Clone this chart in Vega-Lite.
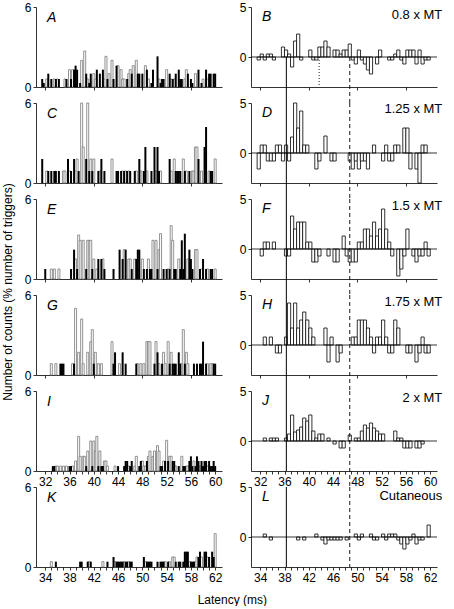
{
"$schema": "https://vega.github.io/schema/vega-lite/v6.json",
"padding": {"left": 2, "top": 1, "right": 0, "bottom": 0},
"title": {"text": "Latency (ms)", "orient": "bottom", "anchor": "middle", "offset": 12, "dx": 10},
"datasets": {
"A": [{"t":31.5,"s":"b","v":0.6},{"t":31.75,"s":"b","v":0.3},{"t":32.25,"s":"w","v":0.6},{"t":32.5,"s":"b","v":1},{"t":33,"s":"b","v":0.6},{"t":33.5,"s":"w","v":0.6},{"t":33.75,"s":"b","v":0.6},{"t":34,"s":"w","v":0.6},{"t":34.25,"s":"b","v":0.6},{"t":35.25,"s":"w","v":0.6},{"t":35.5,"s":"b","v":0.6},{"t":36,"s":"w","v":1.3},{"t":36.25,"s":"b","v":0.6},{"t":36.5,"s":"w","v":1.3},{"t":36.75,"s":"b","v":1.3},{"t":37,"s":"b","v":1.6},{"t":37.25,"s":"b","v":1.3},{"t":37.75,"s":"b","v":0.3},{"t":38,"s":"w","v":2},{"t":38.5,"s":"w","v":2.7},{"t":38.75,"s":"b","v":1},{"t":39,"s":"w","v":0.6},{"t":39.25,"s":"b","v":0.3},{"t":39.5,"s":"b","v":1},{"t":40,"s":"w","v":1},{"t":40.25,"s":"w","v":0.6},{"t":40.5,"s":"b","v":1.3},{"t":41,"s":"b","v":1},{"t":41.5,"s":"b","v":1.3},{"t":41.75,"s":"w","v":0.6},{"t":42,"s":"w","v":2.3},{"t":42.25,"s":"b","v":0.6},{"t":42.5,"s":"w","v":1},{"t":43,"s":"w","v":2},{"t":43.25,"s":"b","v":0.6},{"t":43.75,"s":"b","v":1.6},{"t":44,"s":"w","v":1.6},{"t":44.5,"s":"w","v":1.3},{"t":44.75,"s":"w","v":0.6},{"t":45,"s":"w","v":0.6},{"t":45.5,"s":"b","v":0.6},{"t":45.75,"s":"w","v":1},{"t":46,"s":"w","v":1.3},{"t":46.25,"s":"b","v":1},{"t":46.5,"s":"w","v":1.6},{"t":47,"s":"w","v":2},{"t":47.25,"s":"b","v":1},{"t":47.5,"s":"b","v":1},{"t":48,"s":"b","v":1},{"t":48.5,"s":"w","v":1.6},{"t":48.75,"s":"b","v":1.3},{"t":49,"s":"w","v":0.6},{"t":49.5,"s":"b","v":0.3},{"t":49.75,"s":"b","v":1.3},{"t":50.5,"s":"b","v":2.3},{"t":50.75,"s":"w","v":0.6},{"t":51,"s":"b","v":0.3},{"t":51.25,"s":"b","v":0.6},{"t":51.5,"s":"b","v":0.6},{"t":52,"s":"w","v":1.3},{"t":52.5,"s":"b","v":1},{"t":52.75,"s":"w","v":0.6},{"t":53,"s":"b","v":0.6},{"t":53.25,"s":"w","v":0.6},{"t":53.5,"s":"b","v":1},{"t":54,"s":"b","v":1.3},{"t":54.25,"s":"b","v":0.6},{"t":54.5,"s":"b","v":0.6},{"t":55,"s":"w","v":0.6},{"t":55.25,"s":"w","v":1.3},{"t":55.5,"s":"b","v":1},{"t":56,"s":"b","v":0.6},{"t":56.25,"s":"b","v":0.3},{"t":56.75,"s":"w","v":1},{"t":57.25,"s":"b","v":1.3},{"t":57.75,"s":"b","v":0.3},{"t":58,"s":"w","v":0.6},{"t":58.5,"s":"b","v":1.3},{"t":58.75,"s":"w","v":0.6},{"t":59,"s":"b","v":1},{"t":59.25,"s":"b","v":1},{"t":59.75,"s":"b","v":1},{"t":60,"s":"b","v":1}],
"C": [{"t":31.5,"s":"b","v":1.8},{"t":32.25,"s":"w","v":0.9},{"t":32.5,"s":"b","v":0.9},{"t":33,"s":"b","v":0.9},{"t":33.5,"s":"b","v":0.9},{"t":33.75,"s":"b","v":0.9},{"t":34.25,"s":"b","v":0.9},{"t":35,"s":"w","v":0.9},{"t":35.25,"s":"w","v":0.9},{"t":35.75,"s":"b","v":1.8},{"t":36,"s":"w","v":0.9},{"t":36.25,"s":"b","v":0.9},{"t":36.75,"s":"b","v":1.8},{"t":37,"s":"w","v":0.9},{"t":37.25,"s":"w","v":1.8},{"t":37.5,"s":"b","v":0.9},{"t":38,"s":"w","v":6},{"t":38.25,"s":"w","v":2.7},{"t":38.75,"s":"b","v":1.8},{"t":39,"s":"w","v":6},{"t":39.25,"s":"b","v":0.9},{"t":39.5,"s":"w","v":1.8},{"t":39.75,"s":"b","v":0.9},{"t":40,"s":"w","v":1.8},{"t":40.75,"s":"b","v":0.9},{"t":41,"s":"w","v":0.9},{"t":41.25,"s":"b","v":1.8},{"t":41.75,"s":"b","v":0.9},{"t":43,"s":"w","v":1.8},{"t":43.75,"s":"b","v":0.9},{"t":44,"s":"b","v":0.9},{"t":44.5,"s":"b","v":0.9},{"t":44.75,"s":"w","v":0.9},{"t":45,"s":"b","v":0.9},{"t":45.25,"s":"w","v":0.9},{"t":45.5,"s":"b","v":0.9},{"t":45.75,"s":"w","v":0.9},{"t":46,"s":"b","v":0.9},{"t":46.75,"s":"b","v":0.9},{"t":47,"s":"w","v":0.9},{"t":47.5,"s":"b","v":1.8},{"t":47.75,"s":"w","v":0.9},{"t":48.25,"s":"b","v":0.9},{"t":48.5,"s":"b","v":2.7},{"t":48.75,"s":"w","v":0.9},{"t":49.5,"s":"b","v":0.9},{"t":50,"s":"b","v":2.7},{"t":50.25,"s":"w","v":0.9},{"t":50.5,"s":"b","v":2.7},{"t":50.75,"s":"b","v":0.9},{"t":51,"s":"w","v":0.9},{"t":52.5,"s":"b","v":1.8},{"t":52.75,"s":"w","v":0.9},{"t":53.25,"s":"w","v":1.8},{"t":53.5,"s":"b","v":0.9},{"t":53.75,"s":"b","v":0.9},{"t":54,"s":"b","v":0.9},{"t":54.25,"s":"b","v":0.9},{"t":54.75,"s":"w","v":1.8},{"t":55,"s":"b","v":0.9},{"t":55.25,"s":"w","v":0.9},{"t":55.75,"s":"b","v":0.9},{"t":56.25,"s":"w","v":0.9},{"t":56.5,"s":"w","v":0.9},{"t":56.75,"s":"w","v":2.7},{"t":57,"s":"w","v":2.7},{"t":57.25,"s":"b","v":1.8},{"t":57.75,"s":"w","v":0.9},{"t":58.25,"s":"b","v":2.7},{"t":58.5,"s":"b","v":4.2},{"t":59,"s":"w","v":0.9},{"t":59.25,"s":"b","v":0.9},{"t":59.5,"s":"b","v":0.9},{"t":60,"s":"w","v":1.8}],
"E": [{"t":32,"s":"b","v":0.75},{"t":33,"s":"w","v":0.75},{"t":33.5,"s":"w","v":0.75},{"t":34.25,"s":"w","v":0.75},{"t":36.25,"s":"b","v":0.75},{"t":36.75,"s":"b","v":2.2},{"t":37,"s":"w","v":1.5},{"t":37.25,"s":"b","v":0.75},{"t":37.5,"s":"w","v":3.3},{"t":37.75,"s":"w","v":2.9},{"t":38.25,"s":"w","v":2.9},{"t":38.75,"s":"b","v":0.75},{"t":39,"s":"w","v":2.9},{"t":39.25,"s":"w","v":2.9},{"t":39.5,"s":"w","v":2.9},{"t":39.75,"s":"b","v":0.75},{"t":40,"s":"w","v":1.5},{"t":40.5,"s":"w","v":0.75},{"t":40.75,"s":"b","v":1.5},{"t":41.25,"s":"b","v":1.5},{"t":41.5,"s":"w","v":1.5},{"t":41.75,"s":"b","v":0.75},{"t":43.25,"s":"b","v":0.75},{"t":44.25,"s":"b","v":2.2},{"t":44.75,"s":"b","v":1.5},{"t":45,"s":"w","v":2.2},{"t":45.25,"s":"b","v":2.2},{"t":45.75,"s":"w","v":1.5},{"t":46,"s":"w","v":1.5},{"t":46.25,"s":"b","v":0.75},{"t":46.75,"s":"w","v":1.5},{"t":47,"s":"b","v":1.5},{"t":47.25,"s":"b","v":2.2},{"t":47.5,"s":"b","v":2.2},{"t":48,"s":"w","v":1.5},{"t":48.25,"s":"b","v":0.75},{"t":48.75,"s":"b","v":0.75},{"t":49,"s":"w","v":1.5},{"t":49.25,"s":"b","v":0.75},{"t":49.5,"s":"b","v":0.75},{"t":49.75,"s":"w","v":2.9},{"t":50.25,"s":"w","v":2.9},{"t":50.5,"s":"b","v":0.75},{"t":50.75,"s":"w","v":2.2},{"t":51,"s":"w","v":3.4},{"t":51.5,"s":"b","v":0.75},{"t":52,"s":"b","v":0.75},{"t":52.25,"s":"w","v":0.75},{"t":52.5,"s":"b","v":0.75},{"t":52.75,"s":"w","v":4},{"t":53,"s":"w","v":2.9},{"t":53.25,"s":"b","v":0.75},{"t":53.5,"s":"b","v":0.75},{"t":54,"s":"w","v":1.5},{"t":54.25,"s":"b","v":0.75},{"t":54.5,"s":"b","v":2.9},{"t":54.75,"s":"b","v":0.75},{"t":55,"s":"b","v":3.4},{"t":55.5,"s":"w","v":1.5},{"t":55.75,"s":"b","v":2.2},{"t":56,"s":"b","v":1.5},{"t":56.25,"s":"b","v":0.75},{"t":56.75,"s":"w","v":2.2},{"t":57,"s":"w","v":2.2},{"t":57.5,"s":"b","v":0.75},{"t":57.75,"s":"w","v":0.75},{"t":58,"s":"b","v":1.5},{"t":58.5,"s":"b","v":0.75},{"t":58.75,"s":"w","v":0.75},{"t":59.25,"s":"b","v":0.75},{"t":59.5,"s":"b","v":0.75},{"t":60,"s":"w","v":0.75}],
"G": [{"t":33,"s":"w","v":0.85},{"t":33.75,"s":"w","v":0.85},{"t":34.5,"s":"b","v":0.85},{"t":34.75,"s":"b","v":0.85},{"t":35,"s":"b","v":0.85},{"t":36.5,"s":"w","v":0.85},{"t":36.75,"s":"b","v":0.85},{"t":37,"s":"w","v":5},{"t":37.5,"s":"w","v":1.7},{"t":38,"s":"w","v":4.2},{"t":38.25,"s":"w","v":0.85},{"t":39,"s":"w","v":1.7},{"t":39.5,"s":"w","v":2.5},{"t":39.75,"s":"w","v":3.4},{"t":40,"s":"b","v":0.85},{"t":40.25,"s":"w","v":1.7},{"t":40.75,"s":"w","v":0.85},{"t":41.25,"s":"w","v":0.85},{"t":43,"s":"w","v":2.5},{"t":43.25,"s":"b","v":0.85},{"t":43.5,"s":"b","v":1.7},{"t":44.25,"s":"w","v":0.85},{"t":44.75,"s":"b","v":1.7},{"t":45.25,"s":"b","v":0.85},{"t":47,"s":"b","v":0.85},{"t":47.25,"s":"w","v":0.85},{"t":47.75,"s":"w","v":0.85},{"t":48.25,"s":"w","v":0.85},{"t":48.75,"s":"w","v":2.5},{"t":49,"s":"w","v":2.5},{"t":49.25,"s":"w","v":2.5},{"t":50,"s":"b","v":0.85},{"t":50.25,"s":"w","v":2.5},{"t":50.5,"s":"b","v":1.7},{"t":50.75,"s":"w","v":0.85},{"t":51.25,"s":"b","v":0.85},{"t":51.5,"s":"w","v":1.7},{"t":51.75,"s":"w","v":0.85},{"t":52.25,"s":"w","v":2.5},{"t":52.5,"s":"b","v":0.85},{"t":52.75,"s":"w","v":1.7},{"t":53,"s":"b","v":0.85},{"t":53.25,"s":"b","v":0.85},{"t":53.5,"s":"b","v":0.85},{"t":54,"s":"b","v":1.7},{"t":54.25,"s":"b","v":0.85},{"t":54.5,"s":"w","v":0.85},{"t":54.75,"s":"w","v":3.4},{"t":55,"s":"b","v":0.85},{"t":55.25,"s":"w","v":1.7},{"t":55.5,"s":"w","v":0.85},{"t":56.5,"s":"b","v":0.85},{"t":57,"s":"b","v":0.85},{"t":57.5,"s":"b","v":0.85},{"t":57.75,"s":"b","v":0.85},{"t":58,"s":"b","v":2.5},{"t":58.5,"s":"b","v":0.85},{"t":58.75,"s":"w","v":0.85},{"t":59.25,"s":"w","v":0.85},{"t":59.5,"s":"w","v":0.85},{"t":59.75,"s":"b","v":0.85},{"t":60,"s":"b","v":0.85}],
"I": [{"t":33.25,"s":"b","v":0.37},{"t":33.5,"s":"b","v":0.37},{"t":33.75,"s":"w","v":0.37},{"t":34,"s":"w","v":0.37},{"t":34.5,"s":"w","v":0.37},{"t":35,"s":"w","v":0.37},{"t":35.5,"s":"w","v":0.37},{"t":36,"s":"b","v":0.37},{"t":36.25,"s":"b","v":0.37},{"t":36.5,"s":"w","v":0.37},{"t":37,"s":"w","v":0.75},{"t":37.5,"s":"w","v":2.6},{"t":37.75,"s":"w","v":1.1},{"t":38.25,"s":"w","v":1.1},{"t":38.5,"s":"w","v":1.1},{"t":38.75,"s":"b","v":0.37},{"t":39,"s":"w","v":1.5},{"t":39.5,"s":"w","v":2.25},{"t":39.75,"s":"b","v":0.37},{"t":40,"s":"w","v":2.25},{"t":40.25,"s":"w","v":1.5},{"t":40.5,"s":"w","v":2.6},{"t":40.75,"s":"b","v":0.37},{"t":41,"s":"w","v":1.5},{"t":41.25,"s":"b","v":0.37},{"t":41.5,"s":"b","v":0.37},{"t":41.75,"s":"w","v":0.75},{"t":42,"s":"w","v":0.75},{"t":42.25,"s":"w","v":0.37},{"t":43.5,"s":"w","v":0.37},{"t":44,"s":"b","v":0.37},{"t":45,"s":"b","v":0.37},{"t":45.25,"s":"b","v":0.75},{"t":45.5,"s":"b","v":0.75},{"t":45.75,"s":"w","v":0.37},{"t":46,"s":"b","v":0.37},{"t":46.25,"s":"b","v":0.75},{"t":46.75,"s":"w","v":0.37},{"t":47,"s":"w","v":1.1},{"t":47.5,"s":"b","v":0.37},{"t":47.75,"s":"b","v":0.75},{"t":48,"s":"w","v":0.75},{"t":48.25,"s":"w","v":0.37},{"t":48.5,"s":"w","v":0.37},{"t":48.75,"s":"b","v":0.75},{"t":49,"s":"w","v":1.1},{"t":49.25,"s":"w","v":1.5},{"t":49.75,"s":"w","v":1.1},{"t":50,"s":"w","v":1.5},{"t":50.5,"s":"w","v":1.9},{"t":50.75,"s":"w","v":1.5},{"t":51,"s":"b","v":0.37},{"t":51.25,"s":"b","v":0.37},{"t":51.5,"s":"w","v":0.75},{"t":51.75,"s":"b","v":0.75},{"t":52,"s":"w","v":2.3},{"t":52.25,"s":"b","v":0.75},{"t":52.5,"s":"w","v":1.1},{"t":52.75,"s":"w","v":1.1},{"t":53,"s":"b","v":0.75},{"t":53.25,"s":"b","v":0.75},{"t":53.5,"s":"w","v":0.37},{"t":54,"s":"b","v":0.37},{"t":54.5,"s":"w","v":1.1},{"t":54.75,"s":"b","v":0.37},{"t":55,"s":"b","v":0.37},{"t":55.25,"s":"w","v":0.37},{"t":55.5,"s":"w","v":0.37},{"t":55.75,"s":"b","v":0.75},{"t":56,"s":"b","v":1.1},{"t":56.25,"s":"b","v":0.37},{"t":56.5,"s":"w","v":0.75},{"t":56.75,"s":"b","v":0.37},{"t":57,"s":"b","v":1.1},{"t":57.25,"s":"b","v":0.75},{"t":57.5,"s":"w","v":0.37},{"t":57.75,"s":"b","v":0.75},{"t":58,"s":"b","v":0.37},{"t":58.25,"s":"b","v":0.75},{"t":58.5,"s":"b","v":0.75},{"t":58.75,"s":"w","v":0.37},{"t":59,"s":"b","v":0.75},{"t":59.25,"s":"b","v":0.37},{"t":59.5,"s":"b","v":0.37},{"t":59.75,"s":"b","v":0.75},{"t":60,"s":"b","v":0.37}],
"K": [{"t":35,"s":"w","v":0.4},{"t":35.75,"s":"b","v":0.4},{"t":39.75,"s":"b","v":0.4},{"t":40,"s":"b","v":0.4},{"t":41,"s":"b","v":0.4},{"t":41.25,"s":"w","v":0.4},{"t":41.5,"s":"b","v":0.4},{"t":43.5,"s":"w","v":0.4},{"t":44.25,"s":"b","v":0.4},{"t":45.25,"s":"b","v":0.75},{"t":45.5,"s":"w","v":0.4},{"t":45.75,"s":"b","v":0.4},{"t":46,"s":"b","v":0.4},{"t":46.25,"s":"b","v":0.4},{"t":46.5,"s":"b","v":0.4},{"t":46.75,"s":"b","v":0.4},{"t":47,"s":"w","v":0.4},{"t":47.25,"s":"b","v":0.4},{"t":47.5,"s":"b","v":0.4},{"t":47.75,"s":"w","v":0.4},{"t":48,"s":"b","v":0.4},{"t":48.25,"s":"b","v":0.4},{"t":50.25,"s":"b","v":0.75},{"t":50.5,"s":"w","v":0.4},{"t":50.75,"s":"b","v":0.4},{"t":51,"s":"b","v":0.4},{"t":51.25,"s":"b","v":0.4},{"t":51.5,"s":"b","v":0.4},{"t":52.5,"s":"b","v":0.4},{"t":53,"s":"b","v":0.4},{"t":53.25,"s":"b","v":0.4},{"t":53.5,"s":"b","v":0.4},{"t":53.75,"s":"w","v":0.4},{"t":54.25,"s":"b","v":0.4},{"t":54.5,"s":"w","v":0.4},{"t":55,"s":"w","v":0.75},{"t":55.25,"s":"w","v":0.75},{"t":55.5,"s":"b","v":0.4},{"t":56,"s":"b","v":0.4},{"t":56.25,"s":"b","v":0.4},{"t":56.75,"s":"b","v":0.4},{"t":57,"s":"b","v":1.15},{"t":57.25,"s":"b","v":1.15},{"t":57.5,"s":"b","v":1.15},{"t":57.75,"s":"w","v":0.4},{"t":58,"s":"b","v":0.4},{"t":58.25,"s":"b","v":0.4},{"t":58.5,"s":"b","v":0.4},{"t":58.75,"s":"w","v":0.4},{"t":59,"s":"w","v":0.75},{"t":59.25,"s":"b","v":0.75},{"t":59.5,"s":"b","v":1.15},{"t":59.75,"s":"w","v":0.75},{"t":60.25,"s":"b","v":1.15},{"t":60.5,"s":"b","v":1.15},{"t":60.75,"s":"w","v":0.75},{"t":61,"s":"b","v":0.75},{"t":61.5,"s":"b","v":1.15},{"t":61.75,"s":"b","v":0.75},{"t":62,"s":"w","v":2.5}],
"B": [{"t":31.75,"v":-0.3},{"t":32.25,"v":0.3},{"t":32.75,"v":-0.3},{"t":33.25,"v":0.3},{"t":33.75,"v":0.3},{"t":34.25,"v":-0.3},{"t":35.75,"v":1},{"t":36.25,"v":0.7},{"t":36.75,"v":0.3},{"t":37.25,"v":-1},{"t":37.75,"v":1.6},{"t":38.25,"v":2.3},{"t":38.75,"v":-0.3},{"t":40.25,"v":0.7},{"t":40.75,"v":-0.3},{"t":41.25,"v":-0.3},{"t":41.75,"v":1},{"t":42.25,"v":1},{"t":42.75,"v":1.6},{"t":43.25,"v":1},{"t":44.25,"v":0.7},{"t":44.75,"v":0.7},{"t":45.25,"v":0.3},{"t":45.75,"v":0.7},{"t":46.25,"v":0.7},{"t":46.75,"v":1.3},{"t":47.25,"v":-0.3},{"t":47.75,"v":-0.7},{"t":48.25,"v":0.7},{"t":48.75,"v":-0.3},{"t":49.25,"v":-0.7},{"t":49.75,"v":-1.3},{"t":50.25,"v":-1.7},{"t":51.25,"v":-0.7},{"t":51.75,"v":0.7},{"t":53.25,"v":-0.3},{"t":53.75,"v":-0.3},{"t":54.25,"v":0.3},{"t":54.75,"v":0.7},{"t":55.25,"v":-0.3},{"t":55.75,"v":-0.7},{"t":56.25,"v":0.7},{"t":56.75,"v":0.7},{"t":57.25,"v":0.7},{"t":57.75,"v":-0.7},{"t":58.25,"v":0.7},{"t":58.75,"v":-0.7},{"t":59.25,"v":-0.3},{"t":59.75,"v":-0.3}],
"D": [{"t":31.75,"v":-1.6},{"t":32.25,"v":0.8},{"t":32.75,"v":0.8},{"t":33.25,"v":-0.8},{"t":33.75,"v":-0.8},{"t":34.25,"v":-0.8},{"t":34.75,"v":0.8},{"t":35.25,"v":0.8},{"t":35.75,"v":-0.8},{"t":36.25,"v":0.8},{"t":36.75,"v":-0.8},{"t":37.25,"v":1.6},{"t":37.75,"v":5},{"t":38.25,"v":2.5},{"t":38.75,"v":4.2},{"t":39.25,"v":0.8},{"t":39.75,"v":0.8},{"t":41.25,"v":-1.6},{"t":41.75,"v":-0.8},{"t":42.75,"v":1.7},{"t":43.75,"v":-0.8},{"t":44.25,"v":-0.8},{"t":46.75,"v":-0.8},{"t":47.25,"v":-1.6},{"t":47.75,"v":-0.8},{"t":48.25,"v":-1.6},{"t":48.75,"v":-0.8},{"t":49.25,"v":-0.8},{"t":49.75,"v":-1.6},{"t":50.75,"v":0.8},{"t":52.25,"v":-0.8},{"t":52.75,"v":0.8},{"t":53.25,"v":-0.8},{"t":53.75,"v":-0.8},{"t":54.25,"v":0.8},{"t":54.75,"v":0.8},{"t":55.75,"v":2.5},{"t":56.25,"v":2.5},{"t":56.75,"v":-1.6},{"t":57.75,"v":-1.6},{"t":58.25,"v":-3},{"t":58.75,"v":0.8},{"t":59.25,"v":0.8}],
"F": [{"t":32.25,"v":-0.7},{"t":32.75,"v":0.7},{"t":33.25,"v":0.7},{"t":34.25,"v":0.7},{"t":36.25,"v":-0.7},{"t":36.75,"v":-0.7},{"t":37.25,"v":3.3},{"t":37.75,"v":2},{"t":38.25,"v":2.7},{"t":38.75,"v":2.7},{"t":39.25,"v":2.7},{"t":39.75,"v":0.7},{"t":40.25,"v":0.7},{"t":40.75,"v":-1.3},{"t":41.25,"v":-1.3},{"t":41.75,"v":-0.7},{"t":43.25,"v":-0.7},{"t":44.25,"v":-1.3},{"t":44.75,"v":-1.3},{"t":45.75,"v":1.3},{"t":46.25,"v":-0.7},{"t":46.75,"v":-1.3},{"t":47.25,"v":-1.3},{"t":47.75,"v":-1.3},{"t":48.25,"v":0.7},{"t":48.75,"v":0.7},{"t":49.25,"v":2},{"t":49.75,"v":2},{"t":50.25,"v":1.3},{"t":50.75,"v":2.7},{"t":51.25,"v":1.3},{"t":51.75,"v":2},{"t":52.25,"v":4},{"t":52.75,"v":2},{"t":53.25,"v":0.7},{"t":53.75,"v":-0.7},{"t":54.75,"v":-2.7},{"t":55.25,"v":-2},{"t":55.75,"v":-0.7},{"t":56.25,"v":2},{"t":57.25,"v":-0.7},{"t":57.75,"v":-1.3},{"t":58.25,"v":-0.7},{"t":58.75,"v":-0.7},{"t":59.25,"v":0.7},{"t":59.75,"v":-0.7}],
"H": [{"t":32.75,"v":0.8},{"t":33.75,"v":0.8},{"t":34.75,"v":-0.8},{"t":35.25,"v":-0.8},{"t":36.25,"v":0.8},{"t":36.75,"v":4.2},{"t":37.25,"v":1.7},{"t":37.75,"v":4.2},{"t":38.25,"v":1.7},{"t":38.75,"v":2.5},{"t":39.25,"v":3.3},{"t":39.75,"v":2.5},{"t":40.25,"v":1.7},{"t":40.75,"v":0.8},{"t":42.75,"v":1.7},{"t":43.25,"v":-1.7},{"t":43.75,"v":0.8},{"t":44.75,"v":-1.7},{"t":45.25,"v":-0.8},{"t":47.25,"v":0.8},{"t":47.75,"v":0.8},{"t":48.25,"v":2.5},{"t":48.75,"v":2.5},{"t":49.25,"v":2.5},{"t":49.75,"v":1.7},{"t":50.25,"v":0.8},{"t":50.75,"v":-0.8},{"t":51.25,"v":0.8},{"t":51.75,"v":0.8},{"t":52.25,"v":2.5},{"t":52.75,"v":0.8},{"t":53.25,"v":-0.8},{"t":53.75,"v":-0.8},{"t":54.25,"v":2.5},{"t":54.75,"v":1.7},{"t":56.25,"v":-0.8},{"t":56.75,"v":-0.8},{"t":57.75,"v":-1.7},{"t":58.25,"v":-0.8},{"t":58.75,"v":0.8},{"t":59.25,"v":-0.8},{"t":59.75,"v":-0.8}],
"J": [{"t":32.75,"v":0.3},{"t":33.75,"v":0.3},{"t":34.25,"v":0.3},{"t":34.75,"v":0.3},{"t":36.25,"v":0.3},{"t":36.75,"v":0.7},{"t":37.25,"v":2.6},{"t":37.75,"v":0.9},{"t":38.25,"v":1.1},{"t":38.75,"v":1.4},{"t":39.25,"v":2.3},{"t":39.75,"v":2},{"t":40.25,"v":2.6},{"t":40.75,"v":1},{"t":41.25,"v":0.3},{"t":41.75,"v":0.7},{"t":42.25,"v":0.7},{"t":43.25,"v":0.3},{"t":44.25,"v":-0.3},{"t":45.25,"v":-0.7},{"t":45.75,"v":-0.7},{"t":46.75,"v":0.6},{"t":47.75,"v":0.3},{"t":48.25,"v":0.3},{"t":48.75,"v":1},{"t":49.25,"v":1.6},{"t":49.75,"v":1.3},{"t":50.25,"v":1.8},{"t":50.75,"v":1.3},{"t":51.25,"v":1},{"t":51.75,"v":0.7},{"t":52.25,"v":0.7},{"t":54.25,"v":1},{"t":54.75,"v":0.3},{"t":55.25,"v":0.3},{"t":55.75,"v":-0.7},{"t":56.25,"v":-0.7},{"t":56.75,"v":-0.7},{"t":57.75,"v":-0.7},{"t":58.25,"v":-0.7},{"t":58.75,"v":-0.3}],
"L": [{"t":34.75,"v":0.3},{"t":35.75,"v":-0.3},{"t":40.25,"v":-0.3},{"t":41.25,"v":-0.3},{"t":43.25,"v":0.3},{"t":44.25,"v":-0.3},{"t":44.75,"v":-0.7},{"t":45.25,"v":-0.3},{"t":45.75,"v":-0.3},{"t":46.25,"v":-0.3},{"t":46.75,"v":-0.3},{"t":47.25,"v":-0.3},{"t":48.25,"v":-0.3},{"t":49.75,"v":0.3},{"t":50.25,"v":-0.3},{"t":50.75,"v":0.3},{"t":52.25,"v":0.3},{"t":52.75,"v":-0.3},{"t":53.25,"v":-0.3},{"t":54.25,"v":0.3},{"t":54.75,"v":-0.3},{"t":55.25,"v":0.3},{"t":55.75,"v":0.3},{"t":56.25,"v":0.3},{"t":56.75,"v":-0.3},{"t":57.25,"v":-0.7},{"t":57.75,"v":-1.2},{"t":58.25,"v":-0.7},{"t":58.75,"v":-0.3},{"t":59.25,"v":0.3},{"t":59.75,"v":-0.7},{"t":60.25,"v":-0.3},{"t":60.75,"v":-0.3},{"t":61.75,"v":1.2}],
"lines": [{"p":"B","x":36.3,"k":"solid"},{"p":"B","x":41.7,"k":"dot"},{"p":"B","x":46.75,"k":"dash"},{"p":"D","x":36.3,"k":"solid"},{"p":"D","x":46.75,"k":"dash"},{"p":"F","x":36.3,"k":"solid"},{"p":"F","x":46.75,"k":"dash"},{"p":"H","x":36.3,"k":"solid"},{"p":"H","x":46.75,"k":"dash"},{"p":"J","x":36.3,"k":"solid"},{"p":"J","x":46.75,"k":"dash"},{"p":"L","x":38.3,"k":"solid"},{"p":"L","x":48.75,"k":"dash"}]
},
"hconcat": [
{"vconcat": [
 {"width":186,"height":80,"layer":[
  {"data":{"name":"A"},"transform":[{"filter":"datum.s == 'w'"}],"mark":{"type":"bar","width":2,"fill":"white","stroke":"#777777","strokeWidth":0.8},
   "encoding":{"x":{"field":"t","type":"quantitative","title":null,"scale":{"domain":[31.3,60.3],"nice":false,"zero":false},"axis":{"values":[32,33,34,35,36,37,38,39,40,41,42,43,44,45,46,47,48,49,50,51,52,53,54,55,56,57,58,59,60],"labels":false}},
   "y":{"field":"v","type":"quantitative","title":null,"scale":{"domain":[0,6],"nice":false},"axis":{"values":[0,6]}}}},
  {"data":{"name":"A"},"transform":[{"filter":"datum.s == 'b'"}],"mark":{"type":"bar","width":2,"fill":"black"},"encoding":{"x":{"field":"t","type":"quantitative","title":null},"y":{"field":"v","type":"quantitative","title":null}}},
  {"data":{"values":[{}]},"mark":{"type":"text","text":"A","fontStyle":"italic","fontSize":14,"align":"left","baseline":"middle"},"encoding":{"x":{"datum":32.3},"y":{"datum":5.2}}}
 ]},
 {"width":186,"height":80,"layer":[
  {"data":{"name":"C"},"transform":[{"filter":"datum.s == 'w'"}],"mark":{"type":"bar","width":2,"fill":"white","stroke":"#777777","strokeWidth":0.8},
   "encoding":{"x":{"field":"t","type":"quantitative","title":null,"scale":{"domain":[31.3,60.3],"nice":false,"zero":false},"axis":{"values":[32,33,34,35,36,37,38,39,40,41,42,43,44,45,46,47,48,49,50,51,52,53,54,55,56,57,58,59,60],"labels":false}},
   "y":{"field":"v","type":"quantitative","title":null,"scale":{"domain":[0,6],"nice":false},"axis":{"values":[0,6]}}}},
  {"data":{"name":"C"},"transform":[{"filter":"datum.s == 'b'"}],"mark":{"type":"bar","width":2,"fill":"black"},"encoding":{"x":{"field":"t","type":"quantitative","title":null},"y":{"field":"v","type":"quantitative","title":null}}},
  {"data":{"values":[{}]},"mark":{"type":"text","text":"C","fontStyle":"italic","fontSize":14,"align":"left","baseline":"middle"},"encoding":{"x":{"datum":32.3},"y":{"datum":5.2}}}
 ]},
 {"width":186,"height":80,"layer":[
  {"data":{"name":"E"},"transform":[{"filter":"datum.s == 'w'"}],"mark":{"type":"bar","width":2,"fill":"white","stroke":"#777777","strokeWidth":0.8},
   "encoding":{"x":{"field":"t","type":"quantitative","title":null,"scale":{"domain":[31.3,60.3],"nice":false,"zero":false},"axis":{"values":[32,33,34,35,36,37,38,39,40,41,42,43,44,45,46,47,48,49,50,51,52,53,54,55,56,57,58,59,60],"labels":false}},
   "y":{"field":"v","type":"quantitative","title":null,"scale":{"domain":[0,6],"nice":false},"axis":{"values":[0,6]}}}},
  {"data":{"name":"E"},"transform":[{"filter":"datum.s == 'b'"}],"mark":{"type":"bar","width":2,"fill":"black"},"encoding":{"x":{"field":"t","type":"quantitative","title":null},"y":{"field":"v","type":"quantitative","title":null}}},
  {"data":{"values":[{}]},"mark":{"type":"text","text":"E","fontStyle":"italic","fontSize":14,"align":"left","baseline":"middle"},"encoding":{"x":{"datum":32.3},"y":{"datum":5.2}}}
 ]},
 {"width":186,"height":80,"layer":[
  {"data":{"name":"G"},"transform":[{"filter":"datum.s == 'w'"}],"mark":{"type":"bar","width":2,"fill":"white","stroke":"#777777","strokeWidth":0.8},
   "encoding":{"x":{"field":"t","type":"quantitative","title":null,"scale":{"domain":[31.3,60.3],"nice":false,"zero":false},"axis":{"values":[32,33,34,35,36,37,38,39,40,41,42,43,44,45,46,47,48,49,50,51,52,53,54,55,56,57,58,59,60],"labels":false}},
   "y":{"field":"v","type":"quantitative","title":null,"scale":{"domain":[0,6],"nice":false},"axis":{"values":[0,6]}}}},
  {"data":{"name":"G"},"transform":[{"filter":"datum.s == 'b'"}],"mark":{"type":"bar","width":2,"fill":"black"},"encoding":{"x":{"field":"t","type":"quantitative","title":null},"y":{"field":"v","type":"quantitative","title":null}}},
  {"data":{"values":[{}]},"mark":{"type":"text","text":"G","fontStyle":"italic","fontSize":14,"align":"left","baseline":"middle"},"encoding":{"x":{"datum":32.3},"y":{"datum":5.2}}}
 ]},
 {"width":186,"height":80,"resolve":{"axis":{"x":"independent"}},"layer":[
  {"data":{"name":"I"},"transform":[{"filter":"datum.s == 'w'"}],"mark":{"type":"bar","width":2,"fill":"white","stroke":"#777777","strokeWidth":0.8},
   "encoding":{"x":{"field":"t","type":"quantitative","title":null,"scale":{"domain":[31.3,60.3],"nice":false,"zero":false},"axis":{"orient":"bottom","values":[32,33,34,35,36,37,38,39,40,41,42,43,44,45,46,47,48,49,50,51,52,53,54,55,56,57,58,59,60],"labels":false}},
   "y":{"field":"v","type":"quantitative","title":null,"scale":{"domain":[0,6],"nice":false},"axis":{"values":[0,6]}}}},
  {"data":{"name":"I"},"transform":[{"filter":"datum.s == 'b'"}],"mark":{"type":"bar","width":2,"fill":"black"},"encoding":{"x":{"field":"t","type":"quantitative","title":null,"axis":{"orient":"bottom","values":[32,36,40,44,48,52,56,60],"ticks":false,"domain":false,"labelPadding":5,"labelOverlap":false,"labelFlush":false,"labelBound":false}},"y":{"field":"v","type":"quantitative","title":null}}},
  {"data":{"values":[{}]},"mark":{"type":"text","text":"I","fontStyle":"italic","fontSize":14,"align":"left","baseline":"middle"},"encoding":{"x":{"datum":32.3,"axis":null},"y":{"datum":5.2}}}
 ]},
 {"width":186,"height":80,"resolve":{"axis":{"x":"independent"}},"layer":[
  {"data":{"name":"K"},"transform":[{"filter":"datum.s == 'w'"}],"mark":{"type":"bar","width":2,"fill":"white","stroke":"#777777","strokeWidth":0.8},
   "encoding":{"x":{"field":"t","type":"quantitative","title":null,"scale":{"domain":[33.3,62.3],"nice":false,"zero":false},"axis":{"orient":"bottom","values":[34,35,36,37,38,39,40,41,42,43,44,45,46,47,48,49,50,51,52,53,54,55,56,57,58,59,60,61,62],"labels":false}},
   "y":{"field":"v","type":"quantitative","title":null,"scale":{"domain":[0,6],"nice":false},"axis":{"values":[0,6]}}}},
  {"data":{"name":"K"},"transform":[{"filter":"datum.s == 'b'"}],"mark":{"type":"bar","width":2,"fill":"black"},"encoding":{"x":{"field":"t","type":"quantitative","title":null,"axis":{"orient":"bottom","values":[34,38,42,46,50,54,58,62],"ticks":false,"domain":false,"labelPadding":5,"labelOverlap":false,"labelFlush":false,"labelBound":false}},"y":{"field":"v","type":"quantitative","title":null}}},
  {"data":{"values":[{}]},"mark":{"type":"text","text":"K","fontStyle":"italic","fontSize":14,"align":"left","baseline":"middle"},"encoding":{"x":{"datum":34.3,"axis":null},"y":{"datum":5.2}}}
 ]}
], "spacing": 16, "bounds": "flush",
 "title": {"text": "Number of counts (% number of triggers)", "orient": "left", "anchor": "middle", "offset": 9}},
{"vconcat": [
 {"width":186,"height":80,"layer":[
  {"data":{"name":"B"},"mark":{"type":"bar","width":3.2,"fill":"white","stroke":"black","strokeWidth":0.8},
   "encoding":{"x":{"field":"t","type":"quantitative","title":null,"scale":{"domain":[31.3,60.3],"nice":false,"zero":false},"axis":{"values":[32,33,34,35,36,37,38,39,40,41,42,43,44,45,46,47,48,49,50,51,52,53,54,55,56,57,58,59,60],"labels":false}},
   "y":{"field":"v","type":"quantitative","title":null,"scale":{"domain":[-3,5],"nice":false},"axis":{"values":[0,5]}}}},
  {"data":{"values":[{}]},"mark":{"type":"rule","color":"black","strokeWidth":0.8},"encoding":{"y":{"datum":0}}},
  {"data":{"name":"lines"},"transform":[{"filter":"datum.p == 'B' && datum.k == 'solid'"}],"mark":{"type":"rule","color":"black","strokeWidth":1},"encoding":{"x":{"field":"x","type":"quantitative","title":null},"y":{"datum":0},"y2":{"datum":-4.6}}},
  {"data":{"name":"lines"},"transform":[{"filter":"datum.p == 'B' && datum.k == 'dot'"}],"mark":{"type":"rule","color":"black","strokeWidth":0.9,"strokeDash":[1,2]},"encoding":{"x":{"field":"x","type":"quantitative","title":null},"y":{"datum":0},"y2":{"datum":-3}}},
  {"data":{"name":"lines"},"transform":[{"filter":"datum.p == 'B' && datum.k == 'dash'"}],"mark":{"type":"rule","color":"black","strokeWidth":0.9,"strokeDash":[4,3]},"encoding":{"x":{"field":"x","type":"quantitative","title":null},"y":{"datum":0},"y2":{"datum":-4.6}}},
  {"data":{"values":[{}]},"mark":{"type":"text","text":"B","fontStyle":"italic","fontSize":14,"align":"left","baseline":"middle"},"encoding":{"x":{"datum":32.3},"y":{"datum":4}}},
  {"data":{"values":[{}]},"mark":{"type":"text","text":"0.8 x MT","fontSize":13,"align":"right","baseline":"middle"},"encoding":{"x":{"datum":62},"y":{"datum":4.2}}}
 ]},
 {"width":186,"height":80,"layer":[
  {"data":{"name":"D"},"mark":{"type":"bar","width":3.2,"fill":"white","stroke":"black","strokeWidth":0.8},
   "encoding":{"x":{"field":"t","type":"quantitative","title":null,"scale":{"domain":[31.3,60.3],"nice":false,"zero":false},"axis":{"values":[32,33,34,35,36,37,38,39,40,41,42,43,44,45,46,47,48,49,50,51,52,53,54,55,56,57,58,59,60],"labels":false}},
   "y":{"field":"v","type":"quantitative","title":null,"scale":{"domain":[-3,5],"nice":false},"axis":{"values":[0,5]}}}},
  {"data":{"values":[{}]},"mark":{"type":"rule","color":"black","strokeWidth":0.8},"encoding":{"y":{"datum":0}}},
  {"data":{"name":"lines"},"transform":[{"filter":"datum.p == 'D' && datum.k == 'solid'"}],"mark":{"type":"rule","color":"black","strokeWidth":1},"encoding":{"x":{"field":"x","type":"quantitative","title":null},"y":{"datum":5},"y2":{"datum":-4.6}}},
  {"data":{"name":"lines"},"transform":[{"filter":"datum.p == 'D' && datum.k == 'dash'"}],"mark":{"type":"rule","color":"black","strokeWidth":0.9,"strokeDash":[4,3]},"encoding":{"x":{"field":"x","type":"quantitative","title":null},"y":{"datum":5},"y2":{"datum":-4.6}}},
  {"data":{"values":[{}]},"mark":{"type":"text","text":"D","fontStyle":"italic","fontSize":14,"align":"left","baseline":"middle"},"encoding":{"x":{"datum":32.3},"y":{"datum":4}}},
  {"data":{"values":[{}]},"mark":{"type":"text","text":"1.25 x MT","fontSize":13,"align":"right","baseline":"middle"},"encoding":{"x":{"datum":62},"y":{"datum":4.4}}}
 ]},
 {"width":186,"height":80,"layer":[
  {"data":{"name":"F"},"mark":{"type":"bar","width":3.2,"fill":"white","stroke":"black","strokeWidth":0.8},
   "encoding":{"x":{"field":"t","type":"quantitative","title":null,"scale":{"domain":[31.3,60.3],"nice":false,"zero":false},"axis":{"values":[32,33,34,35,36,37,38,39,40,41,42,43,44,45,46,47,48,49,50,51,52,53,54,55,56,57,58,59,60],"labels":false}},
   "y":{"field":"v","type":"quantitative","title":null,"scale":{"domain":[-3,5],"nice":false},"axis":{"values":[0,5]}}}},
  {"data":{"values":[{}]},"mark":{"type":"rule","color":"black","strokeWidth":0.8},"encoding":{"y":{"datum":0}}},
  {"data":{"name":"lines"},"transform":[{"filter":"datum.p == 'F' && datum.k == 'solid'"}],"mark":{"type":"rule","color":"black","strokeWidth":1},"encoding":{"x":{"field":"x","type":"quantitative","title":null},"y":{"datum":5},"y2":{"datum":-4.6}}},
  {"data":{"name":"lines"},"transform":[{"filter":"datum.p == 'F' && datum.k == 'dash'"}],"mark":{"type":"rule","color":"black","strokeWidth":0.9,"strokeDash":[4,3]},"encoding":{"x":{"field":"x","type":"quantitative","title":null},"y":{"datum":5},"y2":{"datum":-4.6}}},
  {"data":{"values":[{}]},"mark":{"type":"text","text":"F","fontStyle":"italic","fontSize":14,"align":"left","baseline":"middle"},"encoding":{"x":{"datum":32.3},"y":{"datum":4}}},
  {"data":{"values":[{}]},"mark":{"type":"text","text":"1.5 x MT","fontSize":13,"align":"right","baseline":"middle"},"encoding":{"x":{"datum":62},"y":{"datum":4.3}}}
 ]},
 {"width":186,"height":80,"layer":[
  {"data":{"name":"H"},"mark":{"type":"bar","width":3.2,"fill":"white","stroke":"black","strokeWidth":0.8},
   "encoding":{"x":{"field":"t","type":"quantitative","title":null,"scale":{"domain":[31.3,60.3],"nice":false,"zero":false},"axis":{"values":[32,33,34,35,36,37,38,39,40,41,42,43,44,45,46,47,48,49,50,51,52,53,54,55,56,57,58,59,60],"labels":false}},
   "y":{"field":"v","type":"quantitative","title":null,"scale":{"domain":[-3,5],"nice":false},"axis":{"values":[0,5]}}}},
  {"data":{"values":[{}]},"mark":{"type":"rule","color":"black","strokeWidth":0.8},"encoding":{"y":{"datum":0}}},
  {"data":{"name":"lines"},"transform":[{"filter":"datum.p == 'H' && datum.k == 'solid'"}],"mark":{"type":"rule","color":"black","strokeWidth":1},"encoding":{"x":{"field":"x","type":"quantitative","title":null},"y":{"datum":5},"y2":{"datum":-4.6}}},
  {"data":{"name":"lines"},"transform":[{"filter":"datum.p == 'H' && datum.k == 'dash'"}],"mark":{"type":"rule","color":"black","strokeWidth":0.9,"strokeDash":[4,3]},"encoding":{"x":{"field":"x","type":"quantitative","title":null},"y":{"datum":5},"y2":{"datum":-4.6}}},
  {"data":{"values":[{}]},"mark":{"type":"text","text":"H","fontStyle":"italic","fontSize":14,"align":"left","baseline":"middle"},"encoding":{"x":{"datum":32.3},"y":{"datum":4}}},
  {"data":{"values":[{}]},"mark":{"type":"text","text":"1.75 x MT","fontSize":13,"align":"right","baseline":"middle"},"encoding":{"x":{"datum":62},"y":{"datum":4.3}}}
 ]},
 {"width":186,"height":80,"resolve":{"axis":{"x":"independent"}},"layer":[
  {"data":{"name":"J"},"mark":{"type":"bar","width":3.2,"fill":"white","stroke":"black","strokeWidth":0.8},
   "encoding":{"x":{"field":"t","type":"quantitative","title":null,"scale":{"domain":[31.3,60.3],"nice":false,"zero":false},"axis":{"orient":"bottom","values":[32,33,34,35,36,37,38,39,40,41,42,43,44,45,46,47,48,49,50,51,52,53,54,55,56,57,58,59,60],"labels":false}},
   "y":{"field":"v","type":"quantitative","title":null,"scale":{"domain":[-3,5],"nice":false},"axis":{"values":[0,5]}}}},
  {"data":{"values":[{}]},"mark":{"type":"rule","color":"black","strokeWidth":0.8},"encoding":{"y":{"datum":0}}},
  {"data":{"name":"lines"},"transform":[{"filter":"datum.p == 'J' && datum.k == 'solid'"}],"mark":{"type":"rule","color":"black","strokeWidth":1},"encoding":{"x":{"field":"x","type":"quantitative","title":null,"axis":{"orient":"bottom","values":[32,36,40,44,48,52,56,60],"ticks":false,"domain":false,"labelPadding":5,"labelOverlap":false,"labelFlush":false,"labelBound":false}},"y":{"datum":5},"y2":{"datum":-3}}},
  {"data":{"name":"lines"},"transform":[{"filter":"datum.p == 'J' && datum.k == 'dash'"}],"mark":{"type":"rule","color":"black","strokeWidth":0.9,"strokeDash":[4,3]},"encoding":{"x":{"field":"x","type":"quantitative","title":null,"axis":null},"y":{"datum":5},"y2":{"datum":-4.6}}},
  {"data":{"values":[{}]},"mark":{"type":"text","text":"J","fontStyle":"italic","fontSize":14,"align":"left","baseline":"middle"},"encoding":{"x":{"datum":32.3,"axis":null},"y":{"datum":4}}},
  {"data":{"values":[{}]},"mark":{"type":"text","text":"2 x MT","fontSize":13,"align":"right","baseline":"middle"},"encoding":{"x":{"datum":62,"axis":null},"y":{"datum":4.3}}}
 ]},
 {"width":186,"height":80,"resolve":{"axis":{"x":"independent"}},"layer":[
  {"data":{"name":"L"},"mark":{"type":"bar","width":3.2,"fill":"white","stroke":"black","strokeWidth":0.8},
   "encoding":{"x":{"field":"t","type":"quantitative","title":null,"scale":{"domain":[33.3,62.3],"nice":false,"zero":false},"axis":{"orient":"bottom","values":[34,35,36,37,38,39,40,41,42,43,44,45,46,47,48,49,50,51,52,53,54,55,56,57,58,59,60,61,62],"labels":false}},
   "y":{"field":"v","type":"quantitative","title":null,"scale":{"domain":[-3,5],"nice":false},"axis":{"values":[0,5]}}}},
  {"data":{"values":[{}]},"mark":{"type":"rule","color":"black","strokeWidth":0.8},"encoding":{"y":{"datum":0}}},
  {"data":{"name":"lines"},"transform":[{"filter":"datum.p == 'L' && datum.k == 'solid'"}],"mark":{"type":"rule","color":"black","strokeWidth":1},"encoding":{"x":{"field":"x","type":"quantitative","title":null,"axis":{"orient":"bottom","values":[34,38,42,46,50,54,58,62],"ticks":false,"domain":false,"labelPadding":5,"labelOverlap":false,"labelFlush":false,"labelBound":false}},"y":{"datum":5},"y2":{"datum":-3}}},
  {"data":{"name":"lines"},"transform":[{"filter":"datum.p == 'L' && datum.k == 'dash'"}],"mark":{"type":"rule","color":"black","strokeWidth":0.9,"strokeDash":[4,3]},"encoding":{"x":{"field":"x","type":"quantitative","title":null,"axis":null},"y":{"datum":5},"y2":{"datum":-3}}},
  {"data":{"values":[{}]},"mark":{"type":"text","text":"L","fontStyle":"italic","fontSize":14,"align":"left","baseline":"middle"},"encoding":{"x":{"datum":34.3,"axis":null},"y":{"datum":4}}},
  {"data":{"values":[{}]},"mark":{"type":"text","text":"Cutaneous","fontSize":13,"align":"right","baseline":"middle"},"encoding":{"x":{"datum":64,"axis":null},"y":{"datum":4.1}}}
 ]}
], "spacing": 16, "bounds": "flush"}
],
"spacing": 17,
"config": {
 "view": {"stroke": null},
 "font": "Liberation Sans",
 "axis": {"grid": false, "domainColor": "black", "tickColor": "black", "labelColor": "black", "labelFontSize": 12, "tickSize": 3, "tickWidth": 0.8, "domainWidth": 0.8, "labelPadding": 2, "labelFlush": false, "labelOverlap": false},
 "title": {"fontSize": 12, "fontWeight": "normal", "color": "black"}
}
}
